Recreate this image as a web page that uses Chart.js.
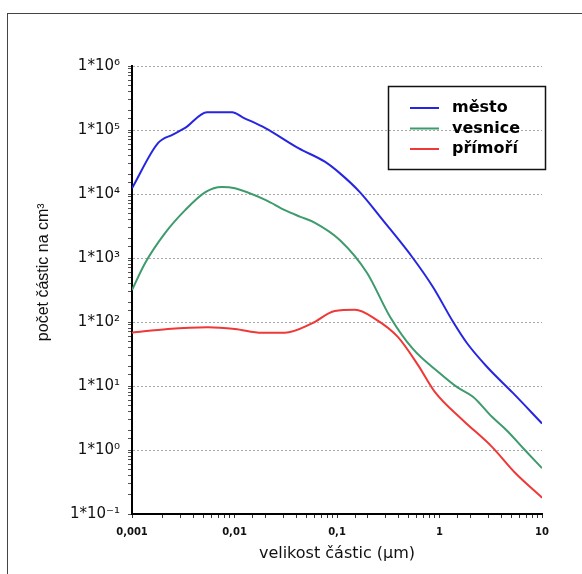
<!DOCTYPE html>
<html>
<head>
<meta charset="utf-8">
<script src="https://cdn.jsdelivr.net/npm/chart.js@4"></script>
<style>
  body { margin: 0; background: #fff; }
  #frame {
    position: absolute; left: 7px; top: 13px; width: 640px; height: 640px;
    border: 1px solid #444;
  }
  #wrap { position: absolute; left: 0; top: 0; width: 582px; height: 574px; }
</style>
</head>
<body>
<div id="frame"></div>
<div id="wrap"><canvas id="sizeChart" width="582" height="574"></canvas></div>
<script>
// particle size (um) and number of particles per cm3
const mestoX = [0.001, 0.0018, 0.0025, 0.0033, 0.0054, 0.0095, 0.012, 0.02, 0.042, 0.076, 0.107, 0.167, 0.28, 0.55, 0.86, 1.36, 1.85, 2.9, 5.2, 10];
const mestoY = [12300, 63000, 85000, 108000, 190000, 190000, 158000, 107000, 52000, 32000, 21000, 10700, 3900, 1000, 355, 100, 47, 20, 7.8, 2.6];

const vesniceX = [0.001, 0.00134, 0.0021, 0.0033, 0.0052, 0.0075, 0.0101, 0.02, 0.031, 0.044, 0.061, 0.107, 0.196, 0.33, 0.55, 1.0, 1.5, 2.12, 3.25, 4.56, 6.8, 10];
const vesniceY = [316, 830, 2450, 5600, 10700, 12900, 12300, 8100, 5600, 4400, 3550, 1900, 590, 120, 38, 16, 9.5, 6.8, 3.3, 2.0, 1.0, 0.52];

const primoriX = [0.001, 0.00224, 0.0055, 0.0101, 0.0185, 0.031, 0.057, 0.095, 0.15, 0.235, 0.39, 0.62, 0.9, 1.66, 3.25, 5.46, 10];
const primoriY = [68, 78, 83, 78, 68, 68, 95, 148, 155, 112, 59, 21, 8.1, 3.0, 1.12, 0.44, 0.18];

const seriesNames = ["město", "vesnice", "přímoří"];
const seriesColors = ["#2626e0", "#3d9b6d", "#ef3838"];

const xTickLabels = { "-3": "0,001", "-2": "0,01", "-1": "0,1", "0": "1", "1": "10" };
const yTickLabels = {
  "-1": "1*10⁻¹", "0": "1*10⁰", "1": "1*10¹", "2": "1*10²",
  "3": "1*10³", "4": "1*10⁴", "5": "1*10⁵", "6": "1*10⁶",
};

function decade(v) {
  const l = Math.log10(v);
  return Math.abs(l - Math.round(l)) < 1e-6 ? Math.round(l) : null;
}

function toPoints(xs, ys) {
  return xs.map((x, i) => ({ x: x, y: ys[i] }));
}

// legend box drawn inside the plot, top right
const boxLegend = {
  id: "boxLegend",
  afterDraw(chart) {
    const c = chart.ctx;
    c.save();
    c.strokeStyle = "#111";
    c.lineWidth = 1.5;
    c.strokeRect(388.5, 86.5, 157, 83);
    c.font = "bold 16px 'DejaVu Sans'";
    c.textBaseline = "middle";
    chart.data.datasets.forEach((ds, i) => {
      const y = 108 + i * 20.5;
      c.strokeStyle = ds.borderColor;
      c.lineWidth = 2;
      c.beginPath();
      c.moveTo(410, y);
      c.lineTo(439, y);
      c.stroke();
      c.fillStyle = "#000";
      c.fillText(ds.label, 452, y);
    });
    c.restore();
  },
};

const ctx = document.getElementById("sizeChart").getContext("2d");
const datasets = [
  toPoints(mestoX, mestoY),
  toPoints(vesniceX, vesniceY),
  toPoints(primoriX, primoriY),
].map((pts, i) => ({
  label: seriesNames[i],
  data: pts,
  borderColor: seriesColors[i],
  backgroundColor: seriesColors[i],
  borderWidth: 2,
  pointRadius: 0,
  fill: false,
  cubicInterpolationMode: "monotone",
}));

new Chart(ctx, {
  type: "line",
  data: { datasets: datasets },
  options: {
    responsive: false,
    animation: false,
    layout: { padding: { left: 30, right: 40, top: 66, bottom: 7 } },
    plugins: {
      legend: { display: false },
      tooltip: { enabled: false },
    },
    scales: {
      x: {
        type: "logarithmic",
        min: 0.001,
        max: 10,
        afterFit: (scale) => { scale.height = 53; },
        border: { display: true, color: "#000", width: 2 },
        grid: {
          drawOnChartArea: false,
          tickLength: 4,
          tickColor: "#333",
        },
        ticks: {
          autoSkip: false,
          maxRotation: 0,
          padding: 8,
          color: "#111",
          font: { family: "'DejaVu Sans'", size: 10, weight: "bold" },
          callback: (v) => {
            const d = decade(v);
            return d === null ? "" : xTickLabels[d];
          },
        },
        title: {
          display: true,
          text: "velikost částic (µm)",
          color: "#111",
          font: { family: "'DejaVu Sans'", size: 16 },
        },
      },
      y: {
        type: "logarithmic",
        min: 0.1,
        max: 1000000,
        afterFit: (scale) => { scale.width = 102; },
        border: { display: true, color: "#000", width: 2, dash: [2, 2] },
        grid: {
          color: (c) => (c.tick && decade(c.tick.value) !== null ? "#a8a8a8" : "rgba(0,0,0,0)"),
          lineWidth: 1,
          tickLength: 4,
          tickColor: "#555",
        },
        ticks: {
          autoSkip: false,
          padding: 8,
          color: "#111",
          font: { family: "'DejaVu Sans'", size: 15 },
          callback: (v) => {
            const d = decade(v);
            return d === null ? "" : yTickLabels[d];
          },
        },
        title: {
          display: true,
          text: "\u00a0\u00a0\u00a0\u00a0\u00a0\u00a0\u00a0\u00a0počet částic na cm³",
          color: "#111",
          font: { family: "'Liberation Sans'", size: 16 },
        },
      },
    },
  },
  plugins: [boxLegend],
});
</script>
</body>
</html>
